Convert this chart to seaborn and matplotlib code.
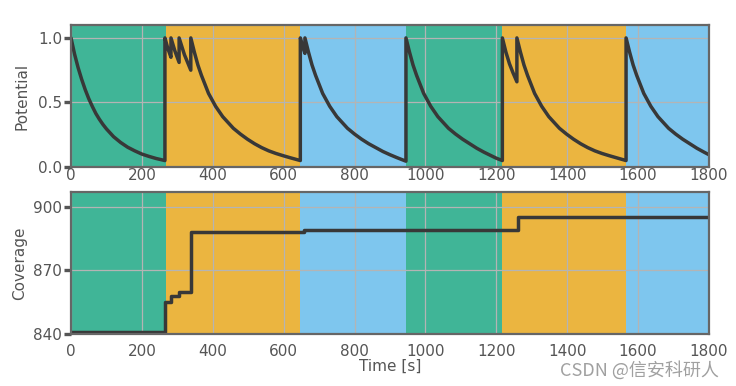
import matplotlib
matplotlib.use("Agg")
import matplotlib.pyplot as plt
import seaborn as sns
import pandas as pd

# ---------------- data ----------------
phase_start = [0, 267, 647, 945, 1217, 1566]
phase_end = [267, 647, 945, 1217, 1566, 1800]
phase_kind = ["green", "orange", "blue", "green", "orange", "blue"]
phase_colors = {"green": "#40B597", "orange": "#EBB540", "blue": "#7EC6EE"}

potential_time = [
    0, 10, 20, 30, 40, 50, 60, 70, 80, 90, 100, 120, 140, 160, 180, 200, 220, 240, 265,
    265, 273, 282, 282, 293, 305, 305, 320, 338,
    338, 348, 358, 368, 378, 388, 398, 408, 418, 428, 438, 458, 478, 498, 518, 538, 558, 578, 598, 618, 647,
    647, 654, 660, 660, 670, 680, 690, 700, 710, 720, 730, 740, 750, 760, 780, 800, 820, 840, 860, 880, 900, 920, 945,
    945, 955, 965, 975, 985, 995, 1005, 1015, 1025, 1035, 1045, 1065, 1085, 1105, 1125, 1145, 1165, 1185, 1200, 1217,
    1217, 1227, 1237, 1247, 1258, 1258, 1268, 1278, 1288, 1298, 1308, 1318, 1328, 1338, 1348, 1358, 1378, 1398, 1418,
    1438, 1458, 1478, 1498, 1518, 1538, 1566,
    1566, 1576, 1586, 1596, 1606, 1616, 1626, 1636, 1646, 1656, 1666, 1686, 1706, 1726, 1746, 1766, 1786, 1800,
]
potential_value = [
    1.00, 0.875, 0.77, 0.68, 0.60, 0.53, 0.47, 0.415, 0.37, 0.33, 0.295, 0.235, 0.19, 0.153, 0.125, 0.10, 0.082, 0.066, 0.05,
    1.00, 0.92, 0.85, 1.00, 0.90, 0.81, 1.00, 0.87, 0.75,
    1.00, 0.89, 0.79, 0.71, 0.64, 0.57, 0.52, 0.47, 0.43, 0.39, 0.36, 0.30, 0.255, 0.215, 0.18, 0.15, 0.125, 0.105, 0.088, 0.072, 0.05,
    1.00, 0.93, 0.88, 1.00, 0.89, 0.79, 0.71, 0.64, 0.57, 0.52, 0.47, 0.43, 0.39, 0.36, 0.30, 0.255, 0.215, 0.18, 0.15, 0.12, 0.095, 0.072, 0.045,
    1.00, 0.89, 0.79, 0.71, 0.64, 0.57, 0.52, 0.47, 0.43, 0.39, 0.36, 0.30, 0.255, 0.215, 0.18, 0.145, 0.115, 0.088, 0.068, 0.05,
    1.00, 0.89, 0.80, 0.73, 0.66, 1.00, 0.89, 0.79, 0.71, 0.64, 0.57, 0.52, 0.47, 0.43, 0.39, 0.36, 0.30, 0.255, 0.215,
    0.18, 0.15, 0.125, 0.105, 0.088, 0.072, 0.05,
    1.00, 0.89, 0.79, 0.71, 0.64, 0.57, 0.52, 0.47, 0.43, 0.39, 0.36, 0.30, 0.255, 0.215, 0.18, 0.145, 0.115, 0.095,
]

coverage_time = [0, 265, 282, 305, 338, 658, 1260, 1800]
coverage_value = [841, 855, 858, 860, 888, 889, 895, 895]

x_ticks = [0, 200, 400, 600, 800, 1000, 1200, 1400, 1600, 1800]
pot_ticks = [0.0, 0.5, 1.0]
cov_ticks = [840, 870, 900]

# ---------------- style ----------------
sns.set_theme(style="whitegrid")
plt.rcParams["font.family"] = ["DejaVu Sans", "Noto Sans CJK SC"]

line_col = "#383838"
spine_col = "#666666"
text_col = "#555555"
fs = 11

fig = plt.figure(figsize=(7.36, 3.86), dpi=100)
ax1 = fig.add_axes([71 / 736, 1 - 167 / 386, 638 / 736, 142 / 386])
ax2 = fig.add_axes([71 / 736, 1 - 334 / 386, 638 / 736, 142 / 386])

pot_df = pd.DataFrame({"t": potential_time, "v": potential_value})
cov_df = pd.DataFrame({"t": coverage_time, "v": coverage_value})

for ax in (ax1, ax2):
    for s, e, k in zip(phase_start, phase_end, phase_kind):
        ax.axvspan(s, e, color=phase_colors[k], lw=0, zorder=0)

sns.lineplot(data=pot_df, x="t", y="v", ax=ax1, color=line_col, lw=2.5,
             sort=False, estimator=None, zorder=3)
sns.lineplot(data=cov_df, x="t", y="v", ax=ax2, color=line_col, lw=2.5,
             drawstyle="steps-post", estimator=None, zorder=3)

ax1.set_ylim(0, 1.1)
ax2.set_ylim(840, 907)
for ax in (ax1, ax2):
    ax.set_xlim(0, 1800)
    ax.set_xticks(x_ticks)
    ax.set_axisbelow(False)
    ax.grid(True, color="#b4b4b4", lw=0.9, zorder=1)
    for sp in ax.spines.values():
        sp.set_color(spine_col)
        sp.set_linewidth(1.6)
        sp.set_zorder(4)
    ax.tick_params(axis="y", which="major", length=5, width=2.4, color="#555555",
                   labelcolor=text_col, labelsize=fs, pad=1.5, left=True)

ax1.tick_params(axis="x", which="major", length=0, labelcolor=text_col,
                labelsize=fs, pad=1)
ax2.tick_params(axis="x", which="major", length=0, labelcolor=text_col,
                labelsize=fs, pad=7)

ax1.set_yticks(pot_ticks)
ax1.set_yticklabels(["0.0", "0.5", "1.0"])
ax2.set_yticks(cov_ticks)

ax1.set_xlabel("")
ax1.set_ylabel("Potential", color=text_col, fontsize=fs, labelpad=6)
ax2.set_ylabel("Coverage", color=text_col, fontsize=fs, labelpad=4)
ax2.set_xlabel("Time [s]", color=text_col, fontsize=fs, labelpad=0)

fig.text(0.977, 0.04, "CSDN @信安科研人", ha="right", va="center", fontsize=13,
         color="#a0a0a0", family=["Noto Sans CJK SC", "DejaVu Sans"])

fig.savefig("out.png", dpi=100)
